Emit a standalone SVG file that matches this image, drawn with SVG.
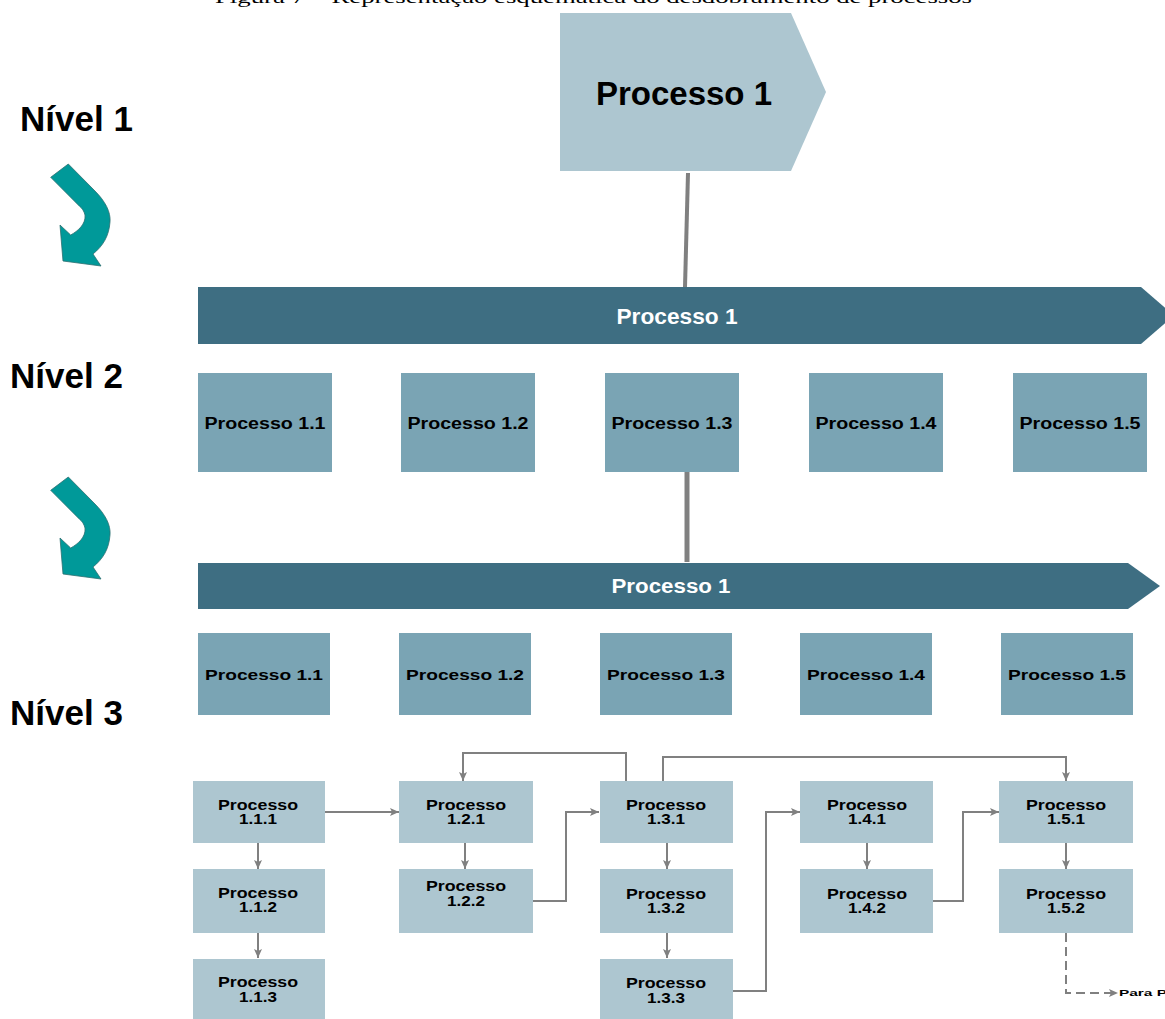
<svg xmlns="http://www.w3.org/2000/svg" width="1165" height="1019" viewBox="0 0 1165 1019">
<style>
text{font-family:"Liberation Sans",Arial,sans-serif;font-weight:bold;fill:#000}
.lvl{font-size:35px}
.ban{font-size:22px;fill:#fff}
.b2{font-size:16px}
.b3{font-size:15px}
.sm{font-size:15px}
.pale{fill:#ADC6D0}
.mid{fill:#7AA4B4}
.dark{fill:#3E6E82}
.con{fill:none;stroke:#808080;stroke-width:2}
.curv{fill:#009999;stroke:#2C6E70;stroke-width:0.8}
</style>
<defs>
<marker id="ah" markerUnits="userSpaceOnUse" markerWidth="10" markerHeight="10" refX="9" refY="5" orient="auto">
<path d="M0,1 L9,5 L0,9 L2,5 Z" fill="#808080"/>
</marker>
<path id="curl" d="M50.7,177.3 L68.3,164 L95,191 C105,201 111,212 110,222 C109,236 103,246 93,254 L101,266 L63,261 L60,225 L70.7,235 C78,231 86,224 85,215 C84,211 82,208 80,206.7 Z"/>
</defs>
<rect width="1165" height="1019" fill="#fff"/>
<text x="215" y="3" style="font-family:'Liberation Serif','Times New Roman',serif;font-weight:normal;font-size:17px" textLength="757" lengthAdjust="spacingAndGlyphs">Figura 7 – Representação esquemática do desdobramento de processos</text>

<g id="labels">
<text class="lvl" x="20" y="131">Nível 1</text>
<text class="lvl" x="10" y="388">Nível 2</text>
<text class="lvl" x="10" y="725">Nível 3</text>
<use href="#curl" class="curv"/>
<use href="#curl" class="curv" transform="translate(0,313)"/>
</g>

<g id="connectors">
<line x1="688" y1="173" x2="685" y2="287" stroke="#808080" stroke-width="4"/>
<line x1="687" y1="472" x2="687" y2="562" stroke="#808080" stroke-width="5"/>
<path class="con" d="M325,812 L399,812" marker-end="url(#ah)"/>
<path class="con" d="M258,843 L258,869" marker-end="url(#ah)"/>
<path class="con" d="M258,932 L258,958" marker-end="url(#ah)"/>
<path class="con" d="M465,843 L465,869" marker-end="url(#ah)"/>
<path class="con" d="M533,901 L566,901 L566,812 L599,812" marker-end="url(#ah)"/>
<path class="con" d="M626,781 L626,753 L463,753 L463,781" marker-end="url(#ah)"/>
<path class="con" d="M663,781 L663,757 L1066,757 L1066,781" marker-end="url(#ah)"/>
<path class="con" d="M667,843 L667,869" marker-end="url(#ah)"/>
<path class="con" d="M667,932 L667,958" marker-end="url(#ah)"/>
<path class="con" d="M733,991 L766,991 L766,812 L800,812" marker-end="url(#ah)"/>
<path class="con" d="M867,843 L867,869" marker-end="url(#ah)"/>
<path class="con" d="M933,901 L963,901 L963,812 L999,812" marker-end="url(#ah)"/>
<path class="con" d="M1066,843 L1066,869" marker-end="url(#ah)"/>
<path class="con" d="M1066,933 L1066,993 L1118,993" stroke-dasharray="9,5" marker-end="url(#ah)"/>
<text x="1119" y="996" style="font-size:9px" textLength="48" lengthAdjust="spacingAndGlyphs">Para P</text>
</g>

<g id="p1">
<polygon class="pale" points="560,13 791,13 826,92 791,171 560,171"/>
<text x="684" y="105" style="font-size:33px" text-anchor="middle">Processo 1</text>
</g>

<g id="banner2">
<polygon class="dark" points="198,287 1141,287 1174,315.5 1141,344 198,344"/>
<text class="ban" x="677" y="324" text-anchor="middle" textLength="121" lengthAdjust="spacingAndGlyphs">Processo 1</text>
</g>

<g id="n2-1"><rect class="mid" x="198" y="373" width="134" height="99"/><text class="b2" x="265" y="429" text-anchor="middle" textLength="121" lengthAdjust="spacingAndGlyphs">Processo 1.1</text></g>
<g id="n2-2"><rect class="mid" x="401" y="373" width="134" height="99"/><text class="b2" x="468" y="429" text-anchor="middle" textLength="121" lengthAdjust="spacingAndGlyphs">Processo 1.2</text></g>
<g id="n2-3"><rect class="mid" x="605" y="373" width="134" height="99"/><text class="b2" x="672" y="429" text-anchor="middle" textLength="121" lengthAdjust="spacingAndGlyphs">Processo 1.3</text></g>
<g id="n2-4"><rect class="mid" x="809" y="373" width="134" height="99"/><text class="b2" x="876" y="429" text-anchor="middle" textLength="121" lengthAdjust="spacingAndGlyphs">Processo 1.4</text></g>
<g id="n2-5"><rect class="mid" x="1013" y="373" width="134" height="99"/><text class="b2" x="1080" y="429" text-anchor="middle" textLength="121" lengthAdjust="spacingAndGlyphs">Processo 1.5</text></g>

<g id="banner3">
<polygon class="dark" points="198,563 1128,563 1160,586 1128,609 198,609"/>
<text class="ban" x="671" y="593" style="font-size:20px" text-anchor="middle" textLength="119" lengthAdjust="spacingAndGlyphs">Processo 1</text>
</g>

<g id="n3-1"><rect class="mid" x="198" y="633" width="132" height="82"/><text class="b3" x="264" y="680" text-anchor="middle" textLength="118" lengthAdjust="spacingAndGlyphs">Processo 1.1</text></g>
<g id="n3-2"><rect class="mid" x="399" y="633" width="132" height="82"/><text class="b3" x="465" y="680" text-anchor="middle" textLength="118" lengthAdjust="spacingAndGlyphs">Processo 1.2</text></g>
<g id="n3-3"><rect class="mid" x="600" y="633" width="132" height="82"/><text class="b3" x="666" y="680" text-anchor="middle" textLength="118" lengthAdjust="spacingAndGlyphs">Processo 1.3</text></g>
<g id="n3-4"><rect class="mid" x="800" y="633" width="132" height="82"/><text class="b3" x="866" y="680" text-anchor="middle" textLength="118" lengthAdjust="spacingAndGlyphs">Processo 1.4</text></g>
<g id="n3-5"><rect class="mid" x="1001" y="633" width="132" height="82"/><text class="b3" x="1067" y="680" text-anchor="middle" textLength="118" lengthAdjust="spacingAndGlyphs">Processo 1.5</text></g>

<g id="n111"><rect class="pale" x="193" y="781" width="132" height="62"/><text class="sm" x="258" y="810" text-anchor="middle" textLength="80" lengthAdjust="spacingAndGlyphs">Processo</text><text class="sm" x="258" y="824" text-anchor="middle" textLength="38" lengthAdjust="spacingAndGlyphs">1.1.1</text></g>
<g id="n112"><rect class="pale" x="193" y="869" width="132" height="64"/><text class="sm" x="258" y="898" text-anchor="middle" textLength="80" lengthAdjust="spacingAndGlyphs">Processo</text><text class="sm" x="258" y="912" text-anchor="middle" textLength="38" lengthAdjust="spacingAndGlyphs">1.1.2</text></g>
<g id="n113"><rect class="pale" x="193" y="959" width="132" height="60"/><text class="sm" x="258" y="987" text-anchor="middle" textLength="80" lengthAdjust="spacingAndGlyphs">Processo</text><text class="sm" x="258" y="1002" text-anchor="middle" textLength="38" lengthAdjust="spacingAndGlyphs">1.1.3</text></g>
<g id="n121"><rect class="pale" x="399" y="781" width="134" height="62"/><text class="sm" x="466" y="810" text-anchor="middle" textLength="80" lengthAdjust="spacingAndGlyphs">Processo</text><text class="sm" x="466" y="824" text-anchor="middle" textLength="38" lengthAdjust="spacingAndGlyphs">1.2.1</text></g>
<g id="n122"><rect class="pale" x="399" y="869" width="134" height="64"/><text class="sm" x="466" y="891" text-anchor="middle" textLength="80" lengthAdjust="spacingAndGlyphs">Processo</text><text class="sm" x="466" y="906" text-anchor="middle" textLength="38" lengthAdjust="spacingAndGlyphs">1.2.2</text></g>
<g id="n131"><rect class="pale" x="600" y="781" width="133" height="62"/><text class="sm" x="666" y="810" text-anchor="middle" textLength="80" lengthAdjust="spacingAndGlyphs">Processo</text><text class="sm" x="666" y="824" text-anchor="middle" textLength="38" lengthAdjust="spacingAndGlyphs">1.3.1</text></g>
<g id="n132"><rect class="pale" x="600" y="869" width="133" height="64"/><text class="sm" x="666" y="899" text-anchor="middle" textLength="80" lengthAdjust="spacingAndGlyphs">Processo</text><text class="sm" x="666" y="913" text-anchor="middle" textLength="38" lengthAdjust="spacingAndGlyphs">1.3.2</text></g>
<g id="n133"><rect class="pale" x="600" y="959" width="133" height="60"/><text class="sm" x="666" y="988" text-anchor="middle" textLength="80" lengthAdjust="spacingAndGlyphs">Processo</text><text class="sm" x="666" y="1003" text-anchor="middle" textLength="38" lengthAdjust="spacingAndGlyphs">1.3.3</text></g>
<g id="n141"><rect class="pale" x="800" y="781" width="133" height="62"/><text class="sm" x="867" y="810" text-anchor="middle" textLength="80" lengthAdjust="spacingAndGlyphs">Processo</text><text class="sm" x="867" y="824" text-anchor="middle" textLength="38" lengthAdjust="spacingAndGlyphs">1.4.1</text></g>
<g id="n142"><rect class="pale" x="800" y="869" width="133" height="64"/><text class="sm" x="867" y="899" text-anchor="middle" textLength="80" lengthAdjust="spacingAndGlyphs">Processo</text><text class="sm" x="867" y="913" text-anchor="middle" textLength="38" lengthAdjust="spacingAndGlyphs">1.4.2</text></g>
<g id="n151"><rect class="pale" x="999" y="781" width="134" height="62"/><text class="sm" x="1066" y="810" text-anchor="middle" textLength="80" lengthAdjust="spacingAndGlyphs">Processo</text><text class="sm" x="1066" y="824" text-anchor="middle" textLength="38" lengthAdjust="spacingAndGlyphs">1.5.1</text></g>
<g id="n152"><rect class="pale" x="999" y="869" width="134" height="64"/><text class="sm" x="1066" y="899" text-anchor="middle" textLength="80" lengthAdjust="spacingAndGlyphs">Processo</text><text class="sm" x="1066" y="913" text-anchor="middle" textLength="38" lengthAdjust="spacingAndGlyphs">1.5.2</text></g>
</svg>
